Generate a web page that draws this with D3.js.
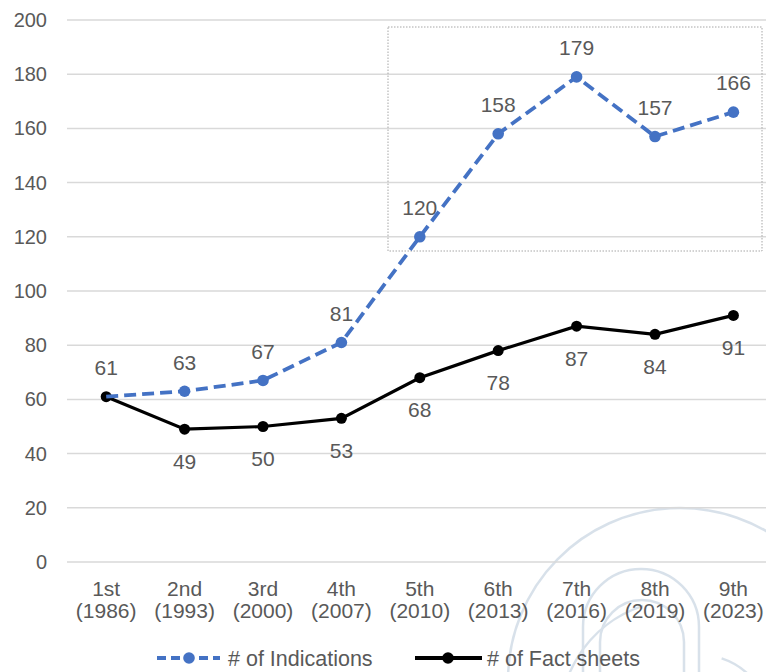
<!DOCTYPE html>
<html>
<head>
<meta charset="utf-8">
<script src="https://cdn.jsdelivr.net/npm/d3@7"></script>
<style>
  html, body { margin: 0; padding: 0; background: #fff; }
  svg { display: block; font-family: "Liberation Sans", Arial, sans-serif; }
</style>
</head>
<body>
<svg id="chart" width="766" height="672"></svg>
<script>
// Edition labels (two lines each) and the two counted series
const editions = ["1st", "2nd", "3rd", "4th", "5th", "6th", "7th", "8th", "9th"];
const years = ["(1986)", "(1993)", "(2000)", "(2007)", "(2010)", "(2013)", "(2016)", "(2019)", "(2023)"];
const indications = [61, 63, 67, 81, 120, 158, 179, 157, 166];
const factSheets = [61, 49, 50, 53, 68, 78, 87, 84, 91];
const yTicks = [0, 20, 40, 60, 80, 100, 120, 140, 160, 180, 200];
const seriesNames = ["# of Indications", "# of Fact sheets"];

const svg = d3.select("#chart");
const W = 766, H = 672;
const plotLeft = 67, plotTop = 20, plotBottom = 562;
const step = 78.4;

const x = d3.scaleBand().domain(editions).range([plotLeft, plotLeft + step * editions.length]).padding(0);
const cx = d => x(d) + x.bandwidth() / 2;
const y = d3.scaleLinear().domain([0, 200]).range([plotBottom, plotTop]);

const textColor = "#595959";
const blue = "#4472C4";
const fs = 21;

// faint watermark emblem in the lower right
const wm = svg.append("g").attr("fill", "none").attr("stroke", "#ccd8e4").attr("stroke-width", 2.5).attr("opacity", 0.75);
wm.append("path").attr("d", d3.arc()({innerRadius: 172, outerRadius: 172, startAngle: -Math.PI * 0.62, endAngle: Math.PI * 0.35}))
  .attr("transform", "translate(680,680)");
wm.append("path").attr("d", "M583,672 L583,627 A58,58 0 0 1 699,627 L699,672");
wm.append("path").attr("d", "M600,672 L600,642 A42,42 0 0 1 684,642 L684,672");
wm.append("path").attr("d", d3.arc()({innerRadius: 120, outerRadius: 120, startAngle: -Math.PI * 0.55, endAngle: -Math.PI * 0.1}))
  .attr("transform", "translate(680,720)");
wm.append("path").attr("d", d3.arc()({innerRadius: 70, outerRadius: 70, startAngle: Math.PI * 0.1, endAngle: Math.PI * 0.45}))
  .attr("transform", "translate(700,725)");

// horizontal gridlines
svg.append("g").selectAll("line").data(yTicks).join("line")
  .attr("x1", plotLeft).attr("x2", W)
  .attr("y1", d => y(d)).attr("y2", d => y(d))
  .attr("stroke", "#d9d9d9").attr("stroke-width", 1.5);

// y tick labels
svg.append("g").selectAll("text").data(yTicks).join("text")
  .attr("x", 47).attr("y", d => y(d)).attr("dy", "0.35em")
  .attr("text-anchor", "end").attr("fill", textColor).attr("font-size", 20)
  .text(d => d);

// x category labels
const xl = svg.append("g").selectAll("text").data(editions).join("text")
  .attr("text-anchor", "middle").attr("fill", textColor).attr("font-size", fs);
xl.append("tspan").attr("x", d => cx(d)).attr("y", 596).text(d => d);
xl.append("tspan").attr("x", d => cx(d)).attr("y", 618).text((d, i) => years[i]);

// dotted highlight box around the recent editions
svg.append("rect")
  .attr("x", 388).attr("y", 27).attr("width", 374).attr("height", 224)
  .attr("fill", "none").attr("stroke", "#a6a6a6").attr("stroke-width", 1)
  .attr("stroke-dasharray", "1.5,1.5");

const line = d3.line().x((d, i) => cx(editions[i])).y(d => y(d));

// fact sheets series (solid black)
svg.append("path").datum(factSheets).attr("d", line)
  .attr("fill", "none").attr("stroke", "#000").attr("stroke-width", 3.2);
svg.append("g").selectAll("circle").data(factSheets).join("circle")
  .attr("cx", (d, i) => cx(editions[i])).attr("cy", d => y(d)).attr("r", 5.5).attr("fill", "#000");

// indications series (dashed blue)
svg.append("path").datum(indications).attr("d", line)
  .attr("fill", "none").attr("stroke", blue).attr("stroke-width", 3.8)
  .attr("stroke-dasharray", "12,6");
svg.append("g").selectAll("circle").data(indications.slice(1)).join("circle")
  .attr("cx", (d, i) => cx(editions[i + 1])).attr("cy", d => y(d)).attr("r", 5.8).attr("fill", blue);

// value labels
svg.append("g").selectAll("text").data(indications).join("text")
  .attr("x", (d, i) => cx(editions[i])).attr("y", d => y(d) - 29).attr("dy", "0.35em")
  .attr("text-anchor", "middle").attr("fill", textColor).attr("font-size", fs)
  .text(d => d);
svg.append("g").selectAll("text").data(factSheets.slice(1)).join("text")
  .attr("x", (d, i) => cx(editions[i + 1])).attr("y", d => y(d) + 32).attr("dy", "0.35em")
  .attr("text-anchor", "middle").attr("fill", textColor).attr("font-size", fs)
  .text(d => d);

// legend
const lg = svg.append("g").attr("font-size", 21.5).attr("fill", textColor);
const ly = 658;
lg.append("line").attr("x1", 157).attr("x2", 220).attr("y1", ly).attr("y2", ly)
  .attr("stroke", blue).attr("stroke-width", 3.8).attr("stroke-dasharray", "9,5");
lg.append("circle").attr("cx", 189).attr("cy", ly).attr("r", 5.8).attr("fill", blue);
lg.append("text").attr("x", 228).attr("y", ly).attr("dy", "0.35em").text(seriesNames[0]);
lg.append("line").attr("x1", 415).attr("x2", 482).attr("y1", ly).attr("y2", ly)
  .attr("stroke", "#000").attr("stroke-width", 3.8);
lg.append("circle").attr("cx", 448).attr("cy", ly).attr("r", 5.8).attr("fill", "#000");
lg.append("text").attr("x", 487).attr("y", ly).attr("dy", "0.35em").text(seriesNames[1]);
</script>
</body>
</html>
